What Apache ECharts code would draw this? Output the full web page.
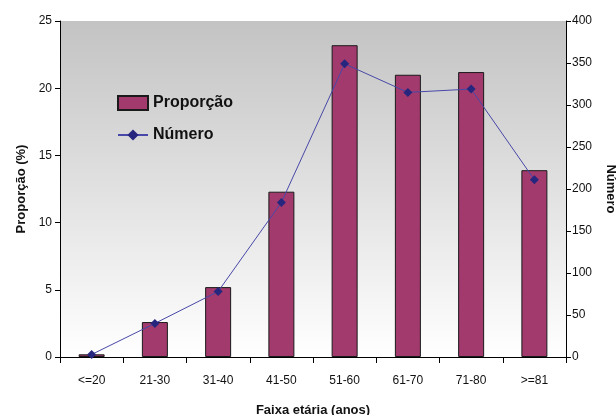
<html>
<head>
    <meta charset="UTF-8">
    <title>Faixa etária</title>
    <script src="https://cdn.jsdelivr.net/npm/echarts@6/dist/echarts.min.js"></script>
</head>
<body style="margin:0">
    <div id="container" style="width: 616px;height:415px;"></div>
<script>
    var categorias = ['<=20', '21-30', '31-40', '41-50', '51-60', '61-70', '71-80', '>=81'];
    var proporcao = [0.2, 2.6, 5.2, 12.3, 23.2, 21.0, 21.2, 13.9];
    var numero = [3, 40, 78, 184, 349, 315, 319, 211];

    var mycharts = echarts.init(document.getElementById('container'));
    var fonte = 'Liberation Sans';
    var option = {
        backgroundColor: '#ffffff',
        textStyle: { fontFamily: fonte },
        grid: {
            left: 60, right: 50, top: 21, bottom: 58,
            outerBoundsMode: 'none',
            show: true,
            borderWidth: 0,
            backgroundColor: {
                type: 'linear', x: 0, y: 0, x2: 0, y2: 1,
                colorStops: [{ offset: 0, color: '#c3c3c3' }, { offset: 1, color: '#ffffff' }]
            }
        },
        legend: {
            orient: 'vertical',
            left: 112, top: 90,
            itemGap: 16,
            itemWidth: 30, itemHeight: 14,
            textStyle: { fontSize: 16, fontWeight: 'bold', color: '#111', fontFamily: fonte },
            data: [
                { name: 'Proporção', icon: 'rect' },
                { name: 'Número' }
            ]
        },
        xAxis: {
            type: 'category',
            data: categorias,
            name: 'Faixa etária (anos)',
            nameLocation: 'middle',
            nameGap: 47,
            nameTextStyle: { fontWeight: 'bold', fontSize: 13, color: '#111' },
            axisLine: { lineStyle: { color: '#000' } },
            axisTick: { show: true, length: 6, lineStyle: { color: '#000' } },
            axisLabel: { color: '#111', fontSize: 12, margin: 18 }
        },
        yAxis: [
            {
                type: 'value', min: 0, max: 25, interval: 5,
                name: 'Proporção (%)',
                nameLocation: 'middle',
                nameGap: 32,
                nameTextStyle: { fontWeight: 'bold', fontSize: 13, color: '#111' },
                axisLine: { show: true, lineStyle: { color: '#000' } },
                axisTick: { show: true, length: 5, lineStyle: { color: '#000' } },
                axisLabel: { color: '#111', fontSize: 12, margin: 8 },
                splitLine: { show: false }
            },
            {
                type: 'value', min: 0, max: 400, interval: 50,
                name: 'Número',
                nameLocation: 'middle',
                nameRotate: -90,
                nameGap: 38,
                nameTextStyle: { fontWeight: 'bold', fontSize: 13, color: '#111' },
                axisLine: { show: true, lineStyle: { color: '#000' } },
                axisTick: { show: true, length: 5, lineStyle: { color: '#000' } },
                axisLabel: { color: '#111', fontSize: 12, margin: 6 },
                splitLine: { show: false }
            }
        ],
        series: [
            {
                name: 'Proporção',
                type: 'bar',
                data: proporcao,
                barWidth: 26,
                itemStyle: { color: '#a23a6e', borderColor: '#1a1a1a', borderWidth: 1 }
            },
            {
                name: 'Número',
                type: 'line',
                yAxisIndex: 1,
                data: numero,
                symbol: 'diamond',
                symbolSize: 9,
                lineStyle: { color: '#4848a8', width: 1 },
                itemStyle: { color: '#26267e' }
            }
        ]
    };
    mycharts.setOption(option);
</script>
</body>
</html>
